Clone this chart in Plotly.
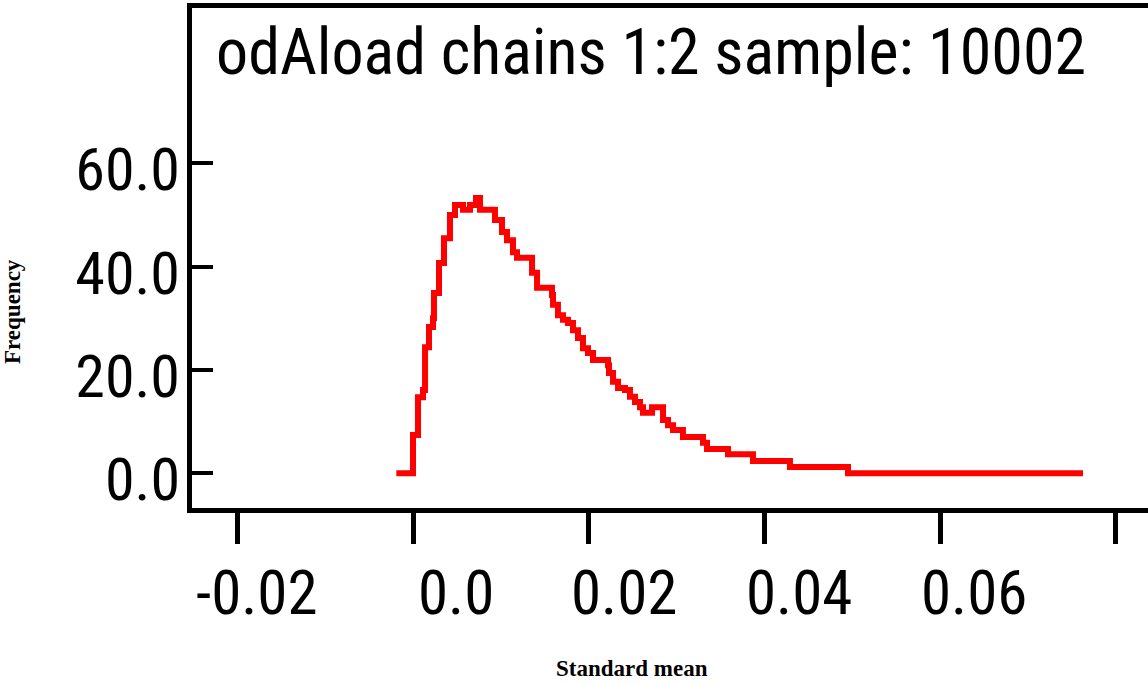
import plotly.graph_objects as go

# ---- data ----
x_vals = [-0.0019, 0.0, 0.00057, 0.00114, 0.00137, 0.00182, 0.00228, 0.00239, 0.00296, 0.00353,
          0.00421, 0.00478, 0.00569, 0.00649, 0.00717, 0.00763, 0.00933, 0.01013, 0.0107, 0.01138,
          0.01184, 0.01355, 0.01412, 0.01582, 0.01594, 0.0165, 0.01707, 0.01764, 0.01821, 0.01878,
          0.01935, 0.01992, 0.02049, 0.0222, 0.02231, 0.02277, 0.02334, 0.02413, 0.0247, 0.02527,
          0.02584, 0.02618, 0.02721, 0.02846, 0.02903, 0.0296, 0.03073, 0.03301, 0.03347, 0.03586,
          0.0387, 0.04291, 0.04952, 0.07627]
y_vals = [0.0, 7.4, 14.7, 16.1, 24.4, 28.3, 30.0, 34.9, 40.7, 45.5,
          50.0, 51.9, 51.0, 51.9, 53.3, 51.0, 49.0, 46.7, 45.1, 42.8,
          41.7, 38.8, 35.9, 34.5, 32.6, 30.6, 29.7, 29.1, 27.7, 26.2,
          24.2, 23.3, 21.9, 20.9, 19.4, 17.7, 16.5, 16.1, 14.8, 13.8,
          12.8, 11.7, 12.8, 10.3, 9.3, 8.4, 7.0, 5.9, 4.7, 3.7,
          2.4, 1.2, 0.0, 0.0]

x_tickvals = [-0.02, 0.0, 0.02, 0.04, 0.06, 0.08]
x_ticktext = ["-0.02", "0.0", "0.02", "0.04", "0.06", ""]
y_tickvals = [0.0, 20.0, 40.0, 60.0]
y_ticktext = ["0.0", "20.0", "40.0", "60.0"]

title_text = "odAload chains 1:2 sample: 10002"
x_title = "Standard mean"
y_title = "Frequency"

# style: horizontal pixel offsets of the x tick labels from their ticks (as drawn in the reference)
x_label_shift = [20, 43, 35, 35, 34, 0]

NARROW = "Roboto Condensed, DejaVu Sans Condensed, Liberation Sans, Arial, sans-serif"
SERIF = "Liberation Serif, Times New Roman, serif"

fig = go.Figure()
fig.add_trace(go.Scatter(
    x=x_vals, y=y_vals, mode="lines", line_shape="hv",
    line=dict(color="#ff0000", width=6), showlegend=False, hoverinfo="skip"))

annotations = [
    dict(text=title_text, xref="paper", yref="paper", x=(214 - 192) / 956, y=(508 - 53) / 500,
         xanchor="left", yanchor="middle", showarrow=False,
         font=dict(family=NARROW, size=64, color="black")),
    dict(text="<b>" + x_title + "</b>", xref="paper", yref="paper", x=(632 - 192) / 956,
         y=(508 - 668) / 500, xanchor="center", yanchor="middle", showarrow=False,
         font=dict(family=SERIF, size=23, color="black")),
    dict(text="<b>" + y_title + "</b>", xref="paper", yref="paper", x=(12 - 192) / 956,
         y=(508 - 312) / 500, xanchor="center", yanchor="middle", showarrow=False,
         textangle=-90, font=dict(family=SERIF, size=23, color="black")),
]
for val, txt, sh in zip(x_tickvals, x_ticktext, x_label_shift):
    if txt:
        annotations.append(dict(
            text=txt, xref="x", yref="paper", x=val, y=(508 - 593) / 500,
            xanchor="center", yanchor="middle", xshift=sh, showarrow=False,
            font=dict(family=NARROW, size=61, color="black")))

fig.update_layout(
    width=1148, height=683,
    margin=dict(l=192, r=0, t=8, b=175, pad=0),
    paper_bgcolor="white", plot_bgcolor="white",
    showlegend=False,
    xaxis=dict(
        range=[-0.025157, 0.083666], showgrid=False, zeroline=False,
        showline=True, linecolor="black", linewidth=5, mirror=True,
        ticks="outside", ticklen=31, tickwidth=4.5, tickcolor="black",
        tickvals=x_tickvals, showticklabels=False,
    ),
    yaxis=dict(
        range=[-6.72, 90.05], showgrid=False, zeroline=False,
        showline=True, linecolor="black", linewidth=5,
        ticks="inside", ticklen=21, tickwidth=4, tickcolor="black",
        tickvals=y_tickvals, ticktext=y_ticktext,
        tickfont=dict(family=NARROW, size=60, color="black"),
        ticklabelshift=6, ticklabelstandoff=-5,
    ),
    annotations=annotations,
)

fig.write_html("out.html")
